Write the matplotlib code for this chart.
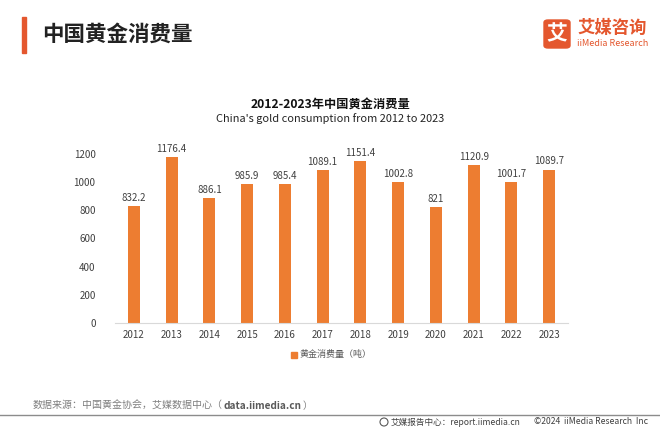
import matplotlib.pyplot as plt
from matplotlib.patches import FancyBboxPatch, Rectangle, Ellipse
import numpy as np

plt.rcParams['font.family'] = ['Noto Sans CJK SC', 'DejaVu Sans']

years = ['2012', '2013', '2014', '2015', '2016', '2017',
         '2018', '2019', '2020', '2021', '2022', '2023']
consumption = [832.2, 1176.4, 886.1, 985.9, 985.4, 1089.1,
               1151.4, 1002.8, 821, 1120.9, 1001.7, 1089.7]
labels = ['832.2', '1176.4', '886.1', '985.9', '985.4', '1089.1',
          '1151.4', '1002.8', '821', '1120.9', '1001.7', '1089.7']
yticks = [0, 200, 400, 600, 800, 1000, 1200]

orange = '#ED7D31'
accent = '#E4572E'

fig = plt.figure(figsize=(6.6, 4.3), dpi=100)
W, H = 660, 430


def fx(px):
    return px / W


def fy(py):
    return 1 - py / H


# 页眉
fig.patches.append(Rectangle((fx(22), fy(53)), fx(4), 36 / H,
                             transform=fig.transFigure, color=accent))
fig.text(fx(42), fy(34), '中国黄金消费量', fontsize=15.5, fontweight='bold',
         color='#222222', va='center')

# logo
fig.patches.append(FancyBboxPatch((fx(544), fy(48)), fx(26), 28 / H,
                                  boxstyle='round,pad=0,rounding_size=0.006',
                                  transform=fig.transFigure, color=accent))
fig.text(fx(557), fy(34), '艾', fontsize=15, fontweight='bold',
         color='white', ha='center', va='center')
fig.text(fx(577), fy(28), '艾媒咨询', fontsize=12.5, fontweight='bold',
         color=accent, va='center')
fig.text(fx(577), fy(44), 'iiMedia Research', fontsize=6.5,
         color=accent, va='center')

# 图表标题
fig.text(0.5, fy(104), '2012-2023年中国黄金消费量', fontsize=8.8,
         fontweight='bold', ha='center', va='center', color='#111111')
fig.text(0.5, fy(119), "China's gold consumption from 2012 to 2023",
         fontsize=7.9, ha='center', va='center', color='#222222')

ax = fig.add_axes([fx(115), fy(323), fx(568) - fx(115), (323 - 154) / H])
x = np.arange(len(years))
bars = ax.bar(x, consumption, width=0.32, color=orange, zorder=2)
for xi, v, t in zip(x, consumption, labels):
    ax.text(xi, v + 22, t, ha='center', va='bottom', fontsize=7,
            color='#404040')

ax.set_xlim(-0.5, len(years) - 0.5)
ax.set_ylim(0, 1200)
ax.set_xticks(x)
ax.set_xticklabels(years)
ax.set_yticks(yticks)
ax.tick_params(axis='both', length=0, labelsize=7, colors='#404040')
ax.tick_params(axis='y', pad=14)
ax.tick_params(axis='x', pad=5)
for s in ['top', 'right', 'left']:
    ax.spines[s].set_visible(False)
ax.spines['bottom'].set_color('#D9D9D9')

# 图例
fig.patches.append(Rectangle((fx(291), fy(358)), fx(6), 6 / H,
                             transform=fig.transFigure, color=orange))
fig.text(fx(300), fy(355), '黄金消费量（吨）', fontsize=6.5, color='#595959',
         va='center')

# 页脚：依次排列几段文字
renderer = fig.canvas.get_renderer()
pieces = [('数据来源：中国黄金协会，艾媒数据中心（', 'normal', '#7F7F7F'),
          ('data.iimedia.cn', 'bold', '#595959'),
          ('）', 'normal', '#7F7F7F')]
cur = 33
for s, w, c in pieces:
    t = fig.text(fx(cur), fy(406), s, fontsize=7.2, fontweight=w, color=c,
                 va='center')
    cur += t.get_window_extent(renderer).width + 1

fig.lines.append(plt.Line2D([0, 1], [fy(415), fy(415)],
                            transform=fig.transFigure, color='#8C8C8C', lw=1))
fig.patches.append(Ellipse((fx(384), fy(422)), 8 / W, 8 / H,
                           transform=fig.transFigure, fill=False,
                           ec='#595959', lw=0.8))
fig.text(fx(391), fy(422), '艾媒报告中心：report.iimedia.cn', fontsize=6.2,
         color='#404040', va='center')
fig.text(fx(534), fy(422), '©2024  iiMedia Research  Inc', fontsize=6.2,
         color='#404040', va='center')

fig.savefig('out.png', dpi=100)
